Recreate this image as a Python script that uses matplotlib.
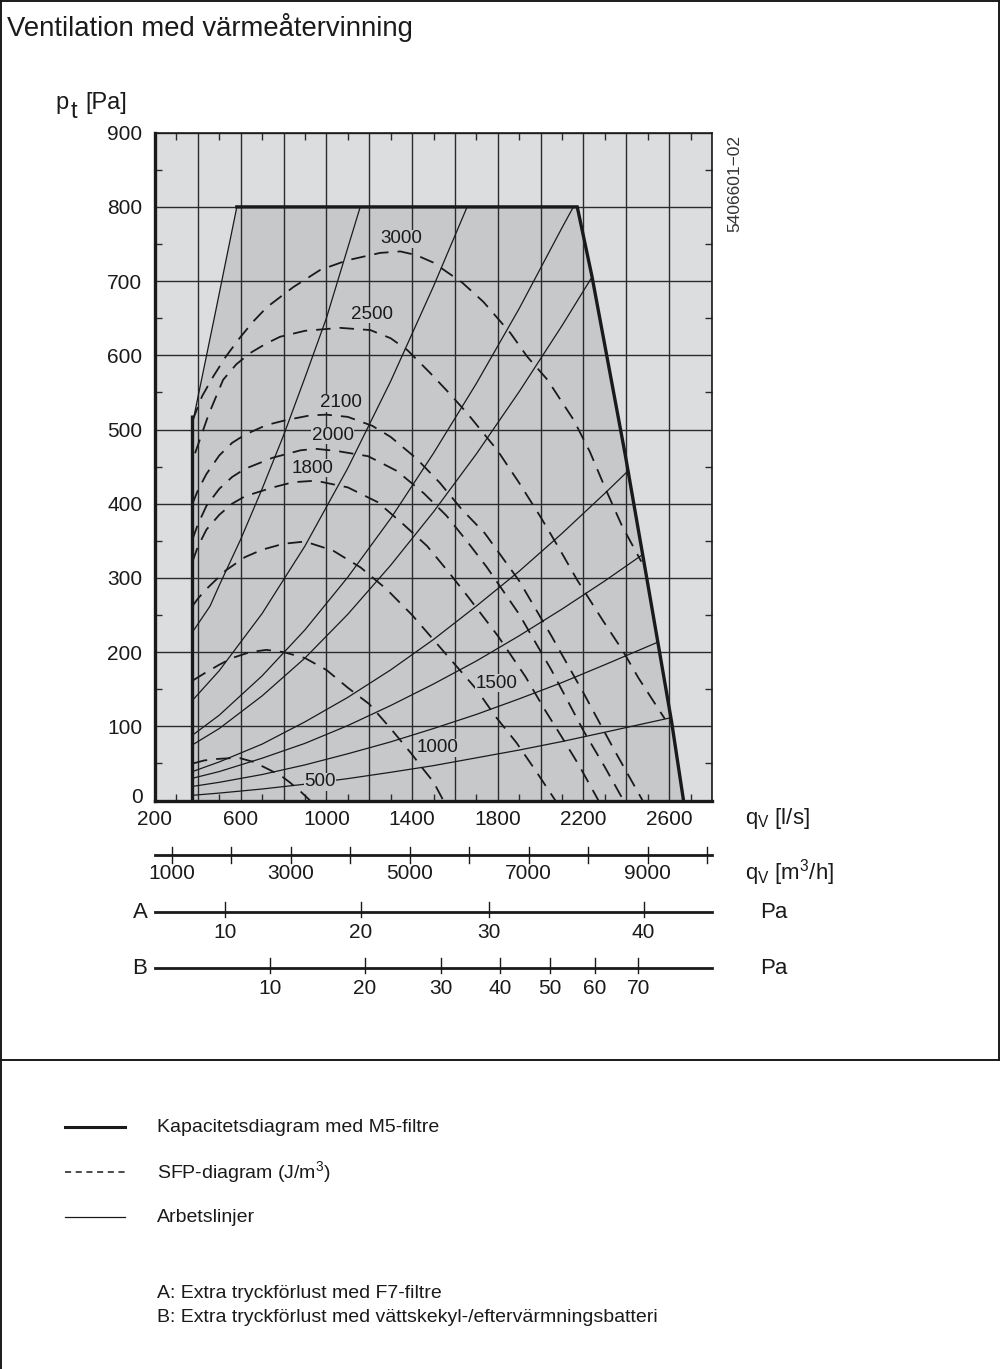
import matplotlib
matplotlib.use("Agg")
import matplotlib.pyplot as plt
import matplotlib.transforms as mtransforms
from matplotlib.patches import Polygon
from matplotlib.lines import Line2D

plt.rcParams['font.family'] = ['Liberation Sans', 'DejaVu Sans']
plt.rcParams['mathtext.default'] = 'regular'

# ---------------- data ----------------
# capacity envelope (M5 filters): flow q [l/s], total pressure p [Pa]
cap_left_q = [375, 375]
cap_left_p = [0, 520]
cap_top_q = [582, 2171, 2240, 2395, 2505, 2612, 2667]
cap_top_p = [800, 800, 706, 466, 284, 105, 0]

# working lines (system curves)
w1_q = [375, 480, 582]
w1_p = [508, 655, 800]
w2_q = [375, 457, 500, 600, 700, 800, 900, 1000, 1100, 1158]
w2_p = [227, 262, 290, 352, 420, 492, 570, 650, 745, 800]
w3_q = [375, 500, 700, 900, 1100, 1300, 1500, 1657]
w3_p = [135, 175, 252, 343, 448, 565, 693, 800]
w4_q = [375, 500, 700, 900, 1100, 1300, 1500, 1700, 1900, 2100, 2153]
w4_p = [88, 115, 168, 230, 301, 380, 468, 562, 663, 772, 800]
w5_q = [375, 500, 700, 900, 1100, 1300, 1500, 1700, 1900, 2100, 2241]
w5_p = [75, 97, 141, 192, 251, 317, 389, 467, 551, 640, 706]
w6_q = [375, 500, 700, 900, 1100, 1300, 1500, 1700, 1900, 2100, 2300, 2404]
w6_p = [39, 52, 76, 106, 139, 176, 217, 262, 309, 360, 414, 443]
w7_q = [375, 500, 700, 900, 1100, 1300, 1500, 1700, 1900, 2100, 2300, 2474]
w7_p = [30, 39, 57, 77, 101, 128, 157, 188, 222, 258, 296, 331]
w8_q = [375, 500, 700, 900, 1100, 1300, 1500, 1700, 1900, 2100, 2300, 2544]
w8_p = [19, 24.5, 35, 48, 63, 79, 97, 116, 137, 159, 183, 213]
w9_q = [375, 500, 700, 900, 1100, 1300, 1500, 1700, 1900, 2100, 2300, 2599]
w9_p = [7, 10, 15.5, 22, 29.5, 38, 47, 57.5, 68, 79.5, 92, 111]
work_q = [w1_q, w2_q, w3_q, w4_q, w5_q, w6_q, w7_q, w8_q, w9_q]
work_p = [w1_p, w2_p, w3_p, w4_p, w5_p, w6_p, w7_p, w8_p, w9_p]

# SFP curves [J/m3]
sfp_values = [500, 1000, 1500, 1800, 2000, 2100, 2500, 3000]
sfp_q = [
    [378, 430, 490, 550, 597, 660, 737, 790, 831, 880, 924],
    [378, 434, 500, 560, 644, 720, 800, 900, 1000, 1100, 1200, 1300,
     1400, 1450, 1500, 1546],
    [375, 400, 440, 530, 620, 700, 800, 900, 1030, 1160, 1280, 1400, 1550,
     1700, 1790, 1887, 1975, 2069],
    [375, 400, 440, 500, 560, 620, 751, 845, 950, 1100, 1240, 1360, 1470,
     1570, 1660, 1800, 1929, 2018, 2100, 2180, 2270],
    [375, 400, 440, 500, 560, 620, 750, 880, 950, 1050, 1195, 1330, 1455,
     1560, 1660, 1750, 1900, 2050, 2200, 2300, 2387],
    [375, 400, 440, 500, 560, 620, 720, 817, 924, 1000, 1100, 1214, 1300,
     1420, 1530, 1630, 1740, 1900, 2050, 2200, 2340, 2476],
    [387, 450, 518, 580, 644, 720, 784, 900, 1064, 1205, 1300, 1378,
     1485, 1570, 1657, 1798, 1900, 2000, 2090, 2171, 2294, 2381, 2457,
     2544, 2580],
    [375, 420, 471, 530, 597, 660, 723, 846, 971, 1097, 1251, 1345, 1420,
     1499, 1634, 1733, 1859, 1938, 2032, 2154, 2230, 2300, 2380, 2470],
]
sfp_p = [
    [50, 54, 56, 57, 57, 52, 41, 33, 24, 12, 0],
    [162, 172, 183, 192, 200, 203, 200, 192, 176, 152, 130, 97,
     62, 43, 25, 0],
    [262, 272, 285, 310, 328, 338, 346, 349, 337, 314, 285, 250, 200,
     150, 113, 78, 41, 0],
    [322, 342, 365, 385, 400, 410, 422, 429, 431, 422, 402, 372, 343,
     308, 275, 222, 167, 123, 85, 47, 0],
    [352, 372, 397, 420, 436, 447, 462, 472, 474, 471, 464, 444, 414,
     384, 348, 314, 251, 176, 94, 45, 0],
    [400, 418, 440, 465, 482, 493, 506, 513, 519, 520, 517, 505, 490,
     461, 428, 393, 360, 296, 222, 145, 70, 0],
    [468, 520, 567, 588, 603, 616, 625, 633, 637, 634, 623, 607,
     576, 550, 522, 472, 428, 382, 338, 297, 241, 203, 165,
     126, 110],
    [512, 545, 571, 598, 624, 646, 665, 692, 715, 728, 738, 740, 735,
     725, 698, 672, 630, 598, 567, 513, 470, 422, 370, 322],
]
sfp_label_q = [971, 1518, 1794, 935, 1030, 1069, 1213, 1350]
sfp_label_p = [25, 71, 158, 448, 492, 536, 655, 757]

# axis ticks
x_ticks = list(range(200, 2801, 200))
x_labels = [200, 600, 1000, 1400, 1800, 2200, 2600]
y_ticks = list(range(0, 901, 100))

# secondary scales
m3h_ticks = list(range(1000, 10001, 1000))
m3h_labels = [1000, 3000, 5000, 7000, 9000]
a_pa = [10, 20, 30, 40]
a_flow = [528, 1160, 1758, 2481]
b_pa = [10, 20, 30, 40, 50, 60, 70]
b_flow = [735, 1178, 1533, 1809, 2042, 2254, 2455]

# ---------------- figure ----------------
W, H = 1000, 1369
fig = plt.figure(figsize=(W / 100, H / 100), dpi=100)
fig.patch.set_facecolor('white')

LIGHT = '#dcdddf'
DARK = '#c7c8ca'
INK = '#1a1a1a'


def fx(px):
    return px / W


def fy(py):
    return 1 - py / H


# frame
for xs, ys in [((1, 1), (0, H)), ((0, W), (1, 1)), ((0, W), (1060, 1060)),
               ((998.5, 998.5), (0, 1060))]:
    fig.add_artist(Line2D([fx(v) for v in xs], [fy(v) for v in ys],
                          color=INK, lw=1.4))

fig.text(fx(7), fy(28), 'Ventilation med värmeåtervinning', fontsize=19.8,
         va='center', ha='left', color=INK)

# main axes
L, R, T, B = 155, 712, 132.7, 800.5
ax = fig.add_axes([fx(L), fy(B), fx(R - L), (B - T) / H])
ax.set_facecolor(LIGHT)
ax.set_xlim(200, 2800)
ax.set_ylim(0, 900)

env_q = [cap_left_q[0]] + [w1_q[0]] + cap_top_q
env_p = [cap_left_p[0]] + [w1_p[0]] + cap_top_p
ax.add_patch(Polygon(list(zip(env_q, env_p)), closed=True, facecolor=DARK,
                     edgecolor='none', zorder=1))

ax.set_xticks(x_ticks)
ax.set_xticklabels([str(v) if v in x_labels else '' for v in x_ticks])
ax.set_yticks(y_ticks)
ax.set_xticks(list(range(300, 2800, 200)), minor=True)
ax.set_yticks(list(range(50, 900, 100)), minor=True)
ax.grid(True, which='major', color='#2b2b2b', lw=1.0)
ax.tick_params(which='major', length=0, labelsize=15, colors=INK)
ax.tick_params(axis='y', which='major', pad=9)
ax.tick_params(axis='x', which='major', pad=7)
ax.tick_params(which='minor', direction='in', length=5, width=1.0,
               color='#2b2b2b', top=True, right=True)
for side, lw in [('left', 2.4), ('bottom', 2.4), ('top', 1.2), ('right', 1.2)]:
    ax.spines[side].set_linewidth(lw)
    ax.spines[side].set_color(INK)
# lift the "0" pressure label clear of the flow labels
lift = mtransforms.ScaledTranslation(0, 5 / 100, fig.dpi_scale_trans)
zero_label = ax.get_yticklabels()[0]
zero_label.set_transform(zero_label.get_transform() + lift)

# working lines
for q, p in zip(work_q, work_p):
    ax.plot(q, p, color=INK, lw=0.9, zorder=3, solid_capstyle='butt')

# SFP curves
for q, p in zip(sfp_q, sfp_p):
    ax.plot(q, p, color=INK, lw=1.3, ls=(0, (8, 5)), zorder=3)
for v, q, p in zip(sfp_values, sfp_label_q, sfp_label_p):
    ax.text(q, p, str(v), fontsize=13.5, ha='center', va='center', color=INK,
            zorder=5, bbox=dict(facecolor=DARK, edgecolor='none', pad=0.3))

# capacity envelope
ax.plot(cap_left_q, cap_left_p, color=INK, lw=2.4, zorder=4,
        solid_capstyle='butt')
ax.plot(cap_top_q, cap_top_p, color=INK, lw=2.4, zorder=4,
        solid_joinstyle='miter')

# axis captions
fig.text(fx(55), fy(103), 'p', fontsize=17, ha='left', va='center', color=INK)
fig.text(fx(71), fy(112), 't', fontsize=17, ha='left', va='center', color=INK)
fig.text(fx(85), fy(103), '[Pa]', fontsize=17, ha='left', va='center',
         color=INK)
fig.text(fx(745), fy(818), 'q$_{V}$ [l/s]', fontsize=16, ha='left',
         va='center', color=INK)
fig.text(fx(745), fy(873), 'q$_{V}$ [m$^{3}$/h]', fontsize=16, ha='left',
         va='center', color=INK)
fig.text(fx(735), fy(183), '5406601\u221202', fontsize=12.5, rotation=90,
         ha='center', va='center', color='#333333')

# secondary scales share the flow range of the main axes
sx = fig.add_axes([fx(L), fy(1000), fx(R - L), 160 / H])
sx.set_xlim(200, 2800)
sx.set_ylim(1000, 840)
sx.axis('off')

y_m3h, y_a, y_b = 855, 912, 968
sx.plot([200, 2800], [y_m3h, y_m3h], color=INK, lw=2.0, clip_on=False)
for m in m3h_ticks:
    q = m / 3.6
    sx.plot([q, q], [y_m3h - 8, y_m3h + 8], color=INK, lw=1.0, clip_on=False)
    if m in m3h_labels:
        sx.text(q, y_m3h + 19, str(m), fontsize=15, ha='center', va='center',
                color=INK)

for yy, name, vals, flows in [(y_a, 'A', a_pa, a_flow), (y_b, 'B', b_pa, b_flow)]:
    sx.plot([200, 2800], [yy, yy], color=INK, lw=2.0, clip_on=False)
    for v, q in zip(vals, flows):
        sx.plot([q, q], [yy - 10, yy + 5], color=INK, lw=1.0, clip_on=False)
        sx.text(q, yy + 21, str(v), fontsize=15, ha='center', va='center',
                color=INK)
    fig.text(fx(140), fy(yy), name, fontsize=16, ha='center', va='center',
             color=INK)
    fig.text(fx(760), fy(yy), 'Pa', fontsize=16, ha='left', va='center',
             color=INK)

# legend
legend_rows = [(1127, dict(lw=2.2, ls='-'), 'Kapacitetsdiagram med M5-filtre'),
               (1172, dict(lw=1.1, ls=(0, (4, 3))), 'SFP-diagram (J/m$^{3}$)'),
               (1217, dict(lw=0.9, ls='-'), 'Arbetslinjer')]
for yy, style, text in legend_rows:
    fig.add_artist(Line2D([fx(65), fx(125)], [fy(yy), fy(yy)], color=INK, **style))
    fig.text(fx(157), fy(yy), text, fontsize=14, ha='left', va='center',
             color=INK)

fig.text(fx(157), fy(1293), 'A: Extra tryckförlust med F7-filtre', fontsize=14,
         ha='left', va='center', color=INK)
fig.text(fx(157), fy(1318),
         'B: Extra tryckförlust med vättskekyl-/eftervärmningsbatteri',
         fontsize=14, ha='left', va='center', color=INK)

fig.savefig('out.png', dpi=100)
